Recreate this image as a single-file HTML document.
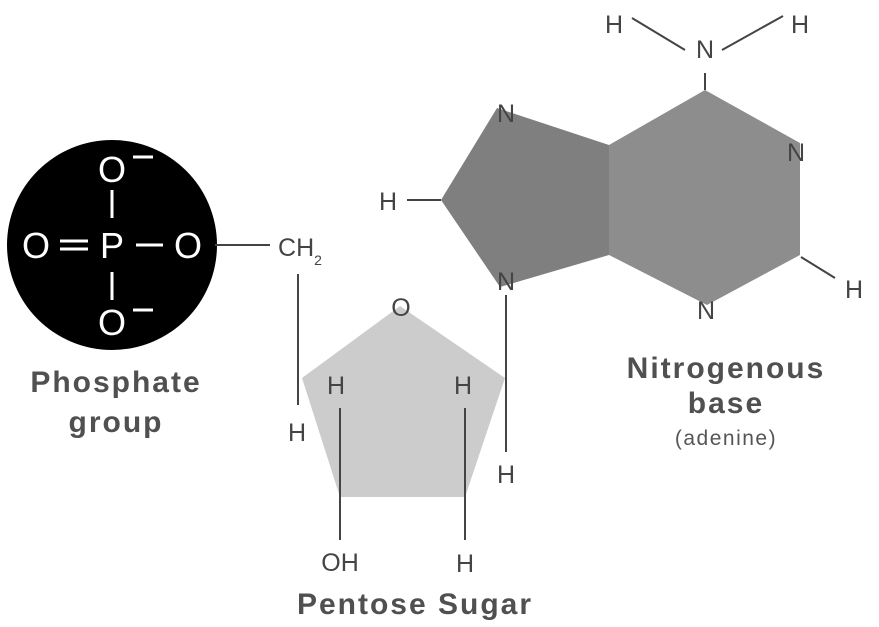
<!DOCTYPE html>
<html><head><meta charset="utf-8"><style>
html,body{margin:0;padding:0;background:#fff;width:879px;height:627px;overflow:hidden}
svg text{font-family:"Liberation Sans",sans-serif}
</style></head><body>
<svg width="879" height="627" viewBox="0 0 879 627" xmlns="http://www.w3.org/2000/svg">
<circle cx="112" cy="245" r="105" fill="#000"/>
<g fill="#fff" font-size="36" text-anchor="middle">
<text x="112" y="182">O</text>
<text x="36" y="258">O</text>
<text x="112" y="258">P</text>
<text x="188" y="258">O</text>
<text x="112" y="335">O</text>
</g>
<g stroke="#fff" stroke-width="3">
<line x1="133" y1="157" x2="153" y2="157"/>
<line x1="133" y1="310" x2="153" y2="310"/>
<line x1="112" y1="190" x2="112" y2="218"/>
<line x1="112" y1="272" x2="112" y2="300"/>
<line x1="60" y1="241" x2="88" y2="241"/>
<line x1="60" y1="249" x2="88" y2="249"/>
<line x1="136" y1="245" x2="163" y2="245"/>
</g>
<polygon points="497,108 609,145 609,255 500,287 441,200" fill="#7f7f7f"/>
<polygon points="609,145 705,90 800,143 800,255 707,305 609,255" fill="#8d8d8d"/>
<polygon points="400,306 505,378 465,497 340,497 302,378" fill="#cccccc"/>
<g stroke="#444" stroke-width="2">
<line x1="215" y1="245" x2="270" y2="245"/>
<line x1="298" y1="274" x2="298" y2="405"/>
<line x1="340" y1="408" x2="340" y2="540"/>
<line x1="465" y1="408" x2="465" y2="540"/>
<line x1="506" y1="295" x2="506" y2="452"/>
<line x1="407" y1="200" x2="441" y2="200"/>
<line x1="801" y1="257" x2="835" y2="278"/>
<line x1="705" y1="73" x2="705" y2="90"/>
<line x1="632" y1="18" x2="685" y2="50"/>
<line x1="722" y1="50" x2="783" y2="16"/>
</g>
<g fill="#444" font-size="25" text-anchor="middle">
<text x="614" y="33">H</text>
<text x="705" y="58">N</text>
<text x="800" y="33">H</text>
<text x="506" y="122">N</text>
<text x="796" y="161">N</text>
<text x="388" y="210">H</text>
<text x="506" y="290">N</text>
<text x="854" y="298">H</text>
<text x="706" y="319">N</text>
<text x="401" y="316">O</text>
<text x="300" y="256">CH<tspan font-size="14" dy="9">2</tspan></text>
<text x="297" y="441">H</text>
<text x="336" y="394">H</text>
<text x="463" y="394">H</text>
<text x="506" y="483">H</text>
<text x="340" y="571">OH</text>
<text x="465" y="572">H</text>
</g>
<g fill="#505050" font-size="30" font-weight="bold" text-anchor="middle" letter-spacing="2">
<text x="116" y="392">Phosphate</text>
<text x="116" y="432">group</text>
<text x="415" y="614">Pentose Sugar</text>
<text x="726" y="378">Nitrogenous</text>
<text x="726" y="413">base</text>
</g>
<text x="726" y="445" fill="#555" font-size="21" text-anchor="middle" letter-spacing="1.5">(adenine)</text>
</svg>
</body></html>
